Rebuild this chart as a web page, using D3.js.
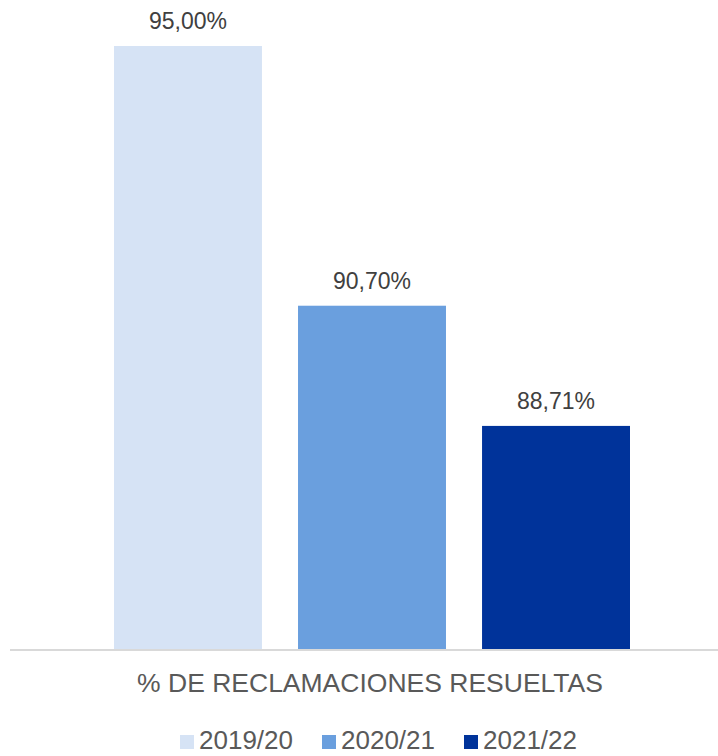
<!DOCTYPE html>
<html>
<head>
<meta charset="utf-8">
<script src="https://cdn.jsdelivr.net/npm/d3@7"></script>
<style>
  body { margin: 0; background: #fff; }
  svg { display: block; font-family: "Liberation Sans", Arial, sans-serif; }
</style>
</head>
<body>
<div id="chart"></div>
<script>
const series = ["2019/20", "2020/21", "2021/22"];
const values = [95.00, 90.70, 88.71];
const labels = ["95,00%", "90,70%", "88,71%"];
const colors = ["#D6E3F5", "#6A9FDE", "#00339A"];
const category = "% DE RECLAMACIONES RESUELTAS";

const width = 718, height = 756;

const svg = d3.select("#chart")
  .append("svg")
  .attr("width", width)
  .attr("height", height);

const x = d3.scaleBand()
  .domain(series)
  .range([114, 630])
  .paddingInner(0.196)
  .paddingOuter(0);

const y = d3.scaleLinear()
  .domain([85, 95])
  .range([650, 46]);

const data = series.map((s, i) => ({ s, v: values[i], label: labels[i], color: colors[i] }));

// bars
svg.selectAll(".bar")
  .data(data)
  .join("rect")
  .attr("class", "bar")
  .attr("x", d => x(d.s))
  .attr("width", x.bandwidth())
  .attr("y", d => y(d.v))
  .attr("height", d => y(85) - y(d.v))
  .attr("fill", d => d.color);

// value labels
svg.selectAll(".lbl")
  .data(data)
  .join("text")
  .attr("class", "lbl")
  .attr("x", d => x(d.s) + x.bandwidth() / 2)
  .attr("y", d => y(d.v) - 17)
  .attr("text-anchor", "middle")
  .attr("font-size", 23)
  .attr("fill", "#404040")
  .text(d => d.label);

// baseline
svg.append("line")
  .attr("x1", 10)
  .attr("x2", width)
  .attr("y1", y(85))
  .attr("y2", y(85))
  .attr("stroke", "#d9d9d9")
  .attr("stroke-width", 2);

// category label
svg.append("text")
  .attr("x", 370)
  .attr("y", 692)
  .attr("text-anchor", "middle")
  .attr("font-size", 26.5)
  .attr("fill", "#595959")
  .text(category);

// legend
const legend = svg.append("g").attr("transform", "translate(180,735)");
const item = legend.selectAll("g")
  .data(data)
  .join("g")
  .attr("transform", (d, i) => `translate(${i * 142},0)`);

item.append("rect")
  .attr("width", 14)
  .attr("height", 14)
  .attr("fill", d => d.color);

item.append("text")
  .attr("x", 19)
  .attr("y", 14)
  .attr("font-size", 26)
  .attr("fill", "#595959")
  .text(d => d.s);
</script>
</body>
</html>
